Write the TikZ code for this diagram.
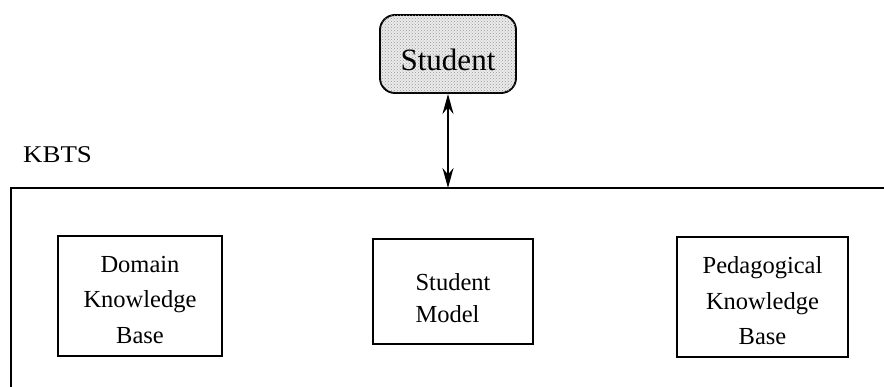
\documentclass[tikz,border=0pt]{standalone}
\usepackage{fontspec}
\setmainfont{Liberation Serif}
\newfontfamily\labelfont{Liberation Serif}
\usetikzlibrary{patterns,arrows.meta}

\tikzset{
  module/.style={draw, line width=1.5pt, inner sep=0pt},
  moduletext/.style={inner sep=0pt, align=center,
    font=\labelfont\fontsize{24.5}{35.5}\selectfont},
  learner/.style={draw, line width=1.9pt, rounded corners=15pt, inner sep=0pt,
    minimum width=136pt, minimum height=78pt,
    fill=black!8, postaction={pattern=crosshatch dots, pattern color=black!40}},
  learnertext/.style={inner sep=0pt, font=\labelfont\fontsize{31}{36}\selectfont},
  frame/.style={line width=1.8pt},
  link/.style={line width=1.9pt, {Stealth[length=20pt,width=11pt]}-{Stealth[length=20pt,width=11pt]}}
}

\begin{document}
\begin{tikzpicture}[x=1pt,y=-1pt]
  \useasboundingbox (0,0) rectangle (884,386);

  % the learner outside the system
  \node[learner] (student) at (448,54) {};
  \node[learnertext, yshift=-6pt] (studentlabel) at (student.center) {Student};

  % system boundary, open to the right and bottom
  \coordinate (ftl) at (11,188);
  \coordinate (ftr) at (890,188);
  \coordinate (fbl) at (11,392);
  \coordinate (top) at (448,188);
  \draw[frame] (ftr) -- (ftl) -- (fbl);
  \node[anchor=base west, inner sep=0pt, font=\labelfont\fontsize{24}{28}\selectfont]
    (kbts) at (23,162) {\scalebox{1.12}[1]{KBTS}};

  % interaction between learner and system
  \draw[link] (student.south) -- (top);

  % components inside the system
  \node[module, minimum width=164pt, minimum height=120pt] (domain) at (140,296) {};
  \node[moduletext, yshift=-4pt] (domainlabel) at (domain.center)
    {Domain\\Knowledge\\Base};
  \node[module, minimum width=160pt, minimum height=105pt] (model) at (453,291.5) {};
  \node[moduletext, align=left, yshift=-7pt,
    font=\labelfont\fontsize{24.5}{32}\selectfont] (modellabel) at (model.center)
    {Student\\Model};
  \node[module, minimum width=171pt, minimum height=120pt] (pedagogy) at (762.5,297) {};
  \node[moduletext, yshift=-4pt] (pedagogylabel) at (pedagogy.center)
    {Pedagogical\\Knowledge\\Base};
\end{tikzpicture}
\end{document}
